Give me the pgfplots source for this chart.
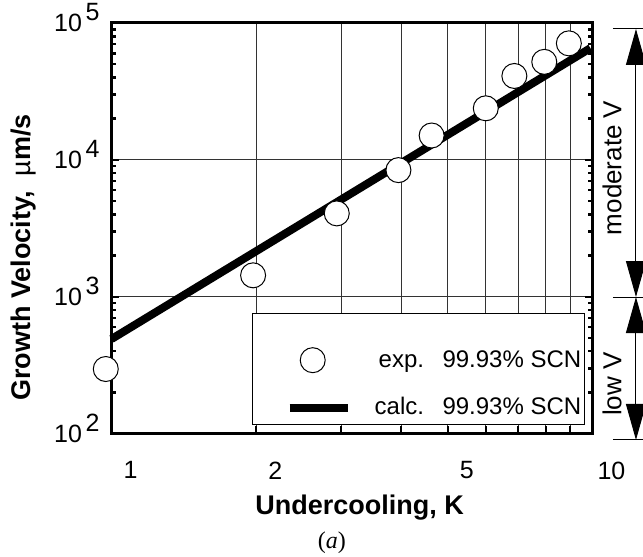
\documentclass[border=0pt]{standalone}
\usepackage{fontspec}
\setmainfont{Liberation Sans}
\newfontfamily\serif{Liberation Serif}
\usepackage{pgfplots}
\pgfplotsset{compat=1.18}
\usetikzlibrary{arrows.meta}

% tick label 10^n, exponent same size and raised
\newcommand{\tl}[1]{10\hspace{1.8pt}\smash{\raisebox{5.5pt}{#1}}}

\begin{document}
\begin{tikzpicture}
\begin{axis}[
    at={(0,0)}, anchor=south west,
    scale only axis, width=240.5pt, height=205.25pt,
    xmode=log, ymode=log,
    xmin=1, xmax=10, ymin=100, ymax=100000,
    clip=false,
    axis line style={line width=1.5pt},
    xtick={1,2,3,4,5,6,7,8,9,10},
    xticklabels={1,2,,,5,,,,,10},
    xminorticks=false,
    xtick pos=left,
    ytick={100,1000,10000,100000},
    minor ytick={200,300,400,500,600,700,800,900,
        2000,3000,4000,5000,6000,7000,8000,9000,
        20000,30000,40000,50000,60000,70000,80000,90000},
    yticklabels={\tl{2},\tl{3},\tl{4},\tl{5}},
    xmajorgrids, ymajorgrids,
    major grid style={black!80, line width=0.45pt},
    major tick length=4pt, minor tick length=2.2pt,
    tick style={black, line width=1pt},
    minor tick style={black, line width=1.3pt},
    ticklabel style={font=\fontsize{12.5}{15}\selectfont},
    xticklabel style={xshift=9.5pt, yshift=-10.5pt},
    yticklabel style={xshift=-2.5pt},
    xlabel={Undercooling, K},
    xlabel style={at={(axis description cs:0.516,-0.181)}, anchor=center,
        font=\fontsize{13.5}{16}\selectfont\bfseries},
    ylabel={\textbf{Growth Velocity,}\hspace{0.55em}{\mdseries µ}\textbf{m/s}},
    ylabel style={at={(axis description cs:-0.182,0.429)}, anchor=center,
        font=\fontsize{13.5}{16}\selectfont},
    legend style={at={(axis description cs:0.984,0.021)}, anchor=south east,
        draw=black, line width=0.5pt, fill=white,
        inner xsep=1.5pt, inner ysep=3.2pt, row sep=12.2pt, column sep=11.5pt,
        nodes={inner sep=0pt}, font=\fontsize{12}{14}\selectfont},
    legend cell align=right,
]
% calculated curve
\addplot[black, line width=4pt, forget plot] coordinates {(1,490) (9.9,65500)};
% experiment
\addplot[only marks, mark=*, mark size=6.25pt,
    mark options={fill=white, draw=black, line width=0.5pt}, forget plot]
    coordinates {
    (0.973,296) (1.97,1432) (2.94,4060) (3.95,8410) (4.63,15060)
    (6.0,23800) (6.88,41000) (7.94,52000) (8.93,71000)
};

\addlegendimage{empty legend}
\addlegendentry{\mbox{}}
\addlegendimage{legend image code/.code={
    \path (-17pt,0pt) (29pt,0pt);
    \draw[black, fill=white, line width=0.5pt] (11.5pt,0pt) circle (6.25pt);}}
\addlegendentry{exp.\hspace{0.4em} 99.93\% SCN}
\addlegendimage{legend image code/.code={
    \path (-17pt,0pt) (29pt,0pt);
    \draw[black, line width=4pt] (0pt,0pt) -- (29pt,0pt);}}
\addlegendentry{calc.\hspace{0.4em} 99.93\% SCN}

% velocity ranges on the right
\draw[line width=0.5pt] (axis description cs:1.0426,0.9854) -- (axis description cs:1.105,0.9854);
\draw[line width=0.5pt] (axis description cs:1.0426,0.3325) -- (axis description cs:1.105,0.3325);
\draw[line width=0.5pt] (axis description cs:1.0426,-0.0158) -- (axis description cs:1.105,-0.0158);
\draw[line width=0.5pt, {Triangle[length=18pt,width=10pt]}-{Triangle[length=18pt,width=10pt]}]
    (axis description cs:1.0904,0.3325) -- (axis description cs:1.0904,0.9854);
\draw[line width=0.5pt, {Triangle[length=18pt,width=10pt]}-{Triangle[length=18pt,width=10pt]}]
    (axis description cs:1.0904,-0.0158) -- (axis description cs:1.0904,0.3325);
\node[rotate=90, font=\fontsize{13}{15}\selectfont] at (axis description cs:1.0405,0.647) {moderate V};
\node[rotate=90, font=\fontsize{13}{15}\selectfont] at (axis description cs:1.0405,0.1206) {low V};

\node[font=\serif\fontsize{12}{14}\selectfont] at (axis description cs:0.458,-0.267) {(\textit{a})};
\end{axis}
\pgfresetboundingbox
\path[use as bounding box] (-55.75pt,-61.75pt) rectangle (265.75pt,216.75pt);
\end{tikzpicture}
\end{document}
